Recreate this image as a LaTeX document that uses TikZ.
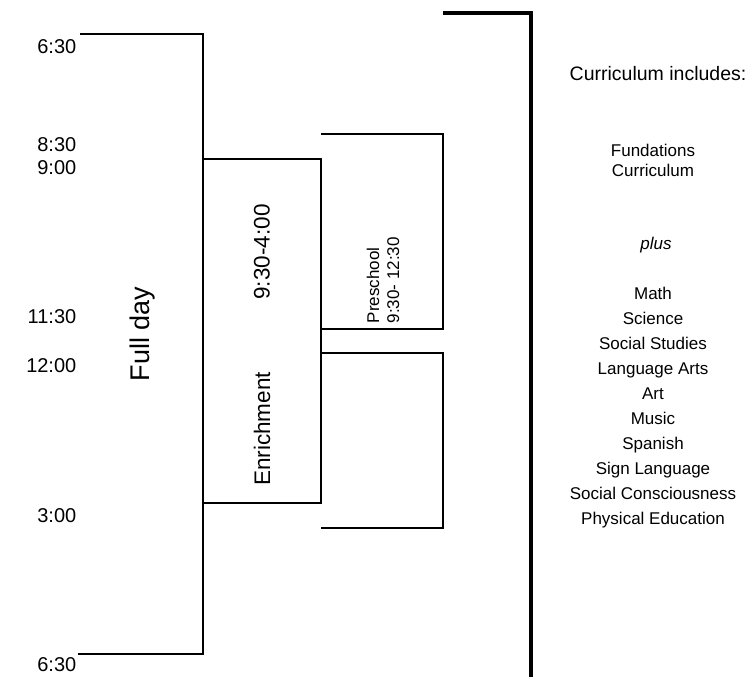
\documentclass[tikz,border=0pt]{standalone}
\usepackage{fontspec}
\setmainfont{Liberation Sans}

\begin{document}
\begin{tikzpicture}[x=1pt,y=-1pt,line width=1.4pt,
  timelbl/.style={anchor=east,inner sep=0pt,font=\fontsize{20}{24}\selectfont},
  biglbl/.style={rotate=90,inner sep=0pt,font=\fontsize{22.5}{27}\selectfont},
  subjlbl/.style={inner sep=0pt,align=center,font=\fontsize{17}{20}\selectfont}]
  \useasboundingbox (0,0) rectangle (752,677);
  % brackets
  \draw (80,34) -- (203,34) -- (203,654) -- (78,654);
  \draw (203,159) rectangle (321,503);
  \draw (321,134) -- (443,134) -- (443,329) -- (321,329);
  \draw (321,353) -- (443,353) -- (443,528) -- (321,528);
  \draw[line width=4.5pt] (443,13) -- (531,13) -- (531,677);
  % times
  \node[timelbl] (topsix) at (77,47) {6:30};
  \node[timelbl] (eightthirty) at (77,145) {8:30};
  \node[timelbl] (nine) at (77,168) {9:00};
  \node[timelbl] (eleventhirty) at (77,317) {11:30};
  \node[timelbl] (noon) at (77,366) {12:00};
  \node[timelbl] (three) at (77,516) {3:00};
  \node[timelbl] (botsix) at (77,665) {6:30};
  % programs
  \node[rotate=90,inner sep=0pt,font=\fontsize{27}{32}\selectfont] (fullday) at (143,334) {Full day};
  \node[biglbl] (hours) at (262,252) {9:30-4:00};
  \node[biglbl] (enrich) at (262,429) {Enrichment};
  \node[rotate=90,anchor=west,align=left,inner sep=0pt,
    font=\fontsize{17}{20}\selectfont] (presch) at (383,324) {Preschool\\9:30- 12:30};
  % curriculum
  \node[inner sep=0pt,font=\fontsize{19.5}{23}\selectfont] (currhead) at (658,74) {Curriculum includes:};
  \node[subjlbl] (fund) at (653,160) {Fundations\\Curriculum};
  \node[subjlbl,anchor=base,font=\fontsize{17}{20}\selectfont\itshape] (plus) at (656,249) {plus};
  \foreach \s [count=\i from 0] in {Math,Science,Social Studies,Language Arts,Art,Music,
    Spanish,Sign Language,Social Consciousness,Physical Education}
    \node[subjlbl,anchor=base] (subj\i) at (653,299+25*\i) {\s};
\end{tikzpicture}
\end{document}
